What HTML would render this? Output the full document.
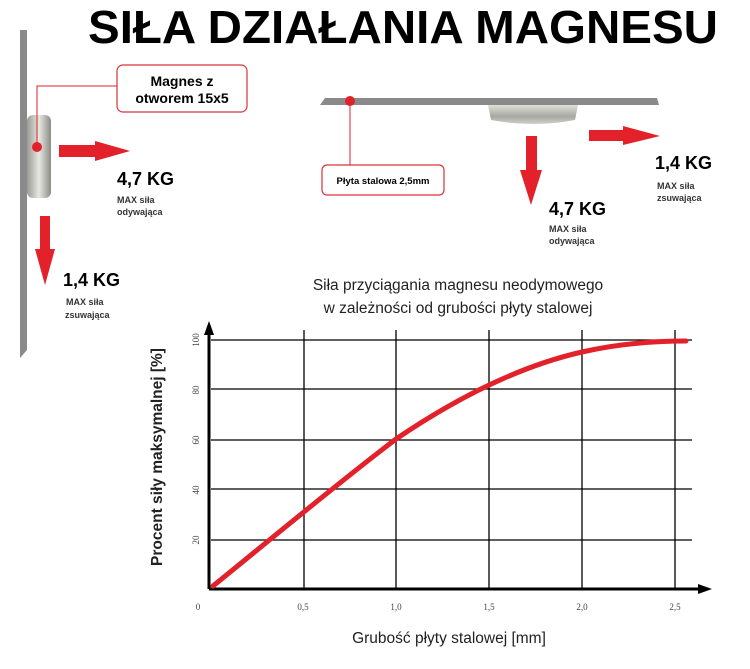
<!DOCTYPE html>
<html><head><meta charset="utf-8"><style>
html,body{margin:0;padding:0;background:#fff;}
svg{display:block;font-family:"Liberation Sans",sans-serif;}
</style></head><body>
<svg width="750" height="669" viewBox="0 0 750 669" xmlns="http://www.w3.org/2000/svg">
<defs>
<linearGradient id="mg" x1="0" y1="0" x2="1" y2="0"><stop offset="0" stop-color="#9a9a94"/><stop offset="0.5" stop-color="#e8e8e2"/><stop offset="1" stop-color="#8c8c86"/></linearGradient>
<linearGradient id="mg2" x1="0" y1="0" x2="0" y2="1"><stop offset="0" stop-color="#e0e0da"/><stop offset="0.6" stop-color="#a8a8a2"/><stop offset="1" stop-color="#d0d0ca"/></linearGradient>
</defs>
<text x="88" y="43" font-size="46" font-weight="bold" textLength="630" lengthAdjust="spacingAndGlyphs">SIŁA DZIAŁANIA MAGNESU</text>

<!-- left wall -->
<polygon points="20,30 27,30 27,350 20,358" fill="#8a8a8a"/>
<rect x="27" y="115" width="24" height="83" rx="6" fill="url(#mg)"/>
<circle cx="37" cy="147" r="5" fill="#e3212a"/>
<polyline points="37,147 37,86 117,86" fill="none" stroke="#e3212a" stroke-width="1"/>
<rect x="117" y="65" width="130" height="47" rx="6" fill="#fff" stroke="#d9333a" stroke-width="1.2"/>
<text x="182" y="86" font-size="14" font-weight="bold" text-anchor="middle">Magnes z</text>
<text x="182" y="103" font-size="14" font-weight="bold" text-anchor="middle">otworem 15x5</text>
<polygon points="59,145 95,145 95,141 130,151 95,161 95,157 59,157" fill="#e3212a"/>
<text x="117" y="185" font-size="18" font-weight="bold">4,7 KG</text>
<text x="117" y="203" font-size="9" font-weight="bold" fill="#333">MAX siła</text>
<text x="117" y="215" font-size="9" font-weight="bold" fill="#333">odywająca</text>
<polygon points="40,216 50,216 50,249 55,249 45,285 35,249 40,249" fill="#e3212a"/>
<text x="63" y="286" font-size="18" font-weight="bold">1,4 KG</text>
<text x="66" y="305" font-size="9" font-weight="bold" fill="#333">MAX siła</text>
<text x="65" y="318" font-size="9" font-weight="bold" fill="#333">zsuwająca</text>

<!-- top plate -->
<polygon points="320,105 325,98 657,98 659,105" fill="#8a8a8a"/>
<path d="M488,105 L578,105 L575,120 Q533,128 491,120 Z" fill="url(#mg2)"/>
<circle cx="350" cy="101" r="5" fill="#e3212a"/>
<line x1="350" y1="101" x2="350" y2="165" stroke="#e3212a" stroke-width="1"/>
<rect x="322" y="165" width="122" height="30" rx="5" fill="#fff" stroke="#d9333a" stroke-width="1.2"/>
<text x="383" y="184" font-size="9.5" font-weight="bold" text-anchor="middle">Płyta stalowa 2,5mm</text>
<polygon points="526,136 537,136 537,170 542,170 531,205 520,170 526,170" fill="#e3212a"/>
<text x="549" y="215" font-size="18" font-weight="bold">4,7 KG</text>
<text x="549" y="232" font-size="9" font-weight="bold" fill="#333">MAX siła</text>
<text x="549" y="244" font-size="9" font-weight="bold" fill="#333">odywająca</text>
<polygon points="589,130 623,130 623,126 660,136 623,145 623,141 589,141" fill="#e3212a"/>
<text x="655" y="169" font-size="18" font-weight="bold">1,4 KG</text>
<text x="657" y="189" font-size="9" font-weight="bold" fill="#333">MAX siła</text>
<text x="657" y="201" font-size="9" font-weight="bold" fill="#333">zsuwająca</text>

<!-- chart -->
<text x="458" y="290" font-size="15.5" text-anchor="middle" fill="#222">Siła przyciągania magnesu neodymowego</text>
<text x="458" y="313" font-size="15.5" text-anchor="middle" fill="#222">w zależności od grubości płyty stalowej</text>
<g stroke="#000" stroke-width="1.3">
<line x1="211" y1="340" x2="692" y2="340"/>
<line x1="211" y1="389" x2="692" y2="389"/>
<line x1="211" y1="440" x2="692" y2="440"/>
<line x1="211" y1="489" x2="692" y2="489"/>
<line x1="211" y1="540" x2="692" y2="540"/>
<line x1="304" y1="330" x2="304" y2="588"/>
<line x1="396" y1="330" x2="396" y2="588"/>
<line x1="489" y1="330" x2="489" y2="588"/>
<line x1="582" y1="330" x2="582" y2="588"/>
<line x1="675" y1="330" x2="675" y2="588"/>
</g>
<line x1="209" y1="589" x2="700" y2="589" stroke="#000" stroke-width="3"/>
<polygon points="712,589 698,584 698,594" fill="#000"/>
<line x1="209" y1="589" x2="209" y2="332" stroke="#000" stroke-width="3"/>
<polygon points="209,321 204,335 214,335" fill="#000"/>
<path d="M213,586 C271,539 338,483 396,439 C458,397 520,366 582,352 C617,344 650,341 686,341" fill="none" stroke="#e3212a" stroke-width="5" stroke-linecap="round"/>
<g font-family="Liberation Serif,serif" font-size="9" fill="#444">
<text transform="translate(199,340) rotate(-90)" text-anchor="middle">100</text>
<text transform="translate(199,390) rotate(-90)" text-anchor="middle">80</text>
<text transform="translate(199,440) rotate(-90)" text-anchor="middle">60</text>
<text transform="translate(199,490) rotate(-90)" text-anchor="middle">40</text>
<text transform="translate(199,540) rotate(-90)" text-anchor="middle">20</text>
<text x="198" y="610" text-anchor="middle">0</text>
<text x="303" y="610" text-anchor="middle">0,5</text>
<text x="396" y="610" text-anchor="middle">1,0</text>
<text x="489" y="610" text-anchor="middle">1,5</text>
<text x="582" y="610" text-anchor="middle">2,0</text>
<text x="675" y="610" text-anchor="middle">2,5</text>
</g>
<text x="449" y="643" font-size="15.5" text-anchor="middle" fill="#222">Grubość płyty stalowej [mm]</text>
<text transform="translate(162,457) rotate(-90)" font-size="15.5" font-weight="bold" text-anchor="middle" fill="#222">Procent siły maksymalnej [%]</text>
</svg>
</body></html>
